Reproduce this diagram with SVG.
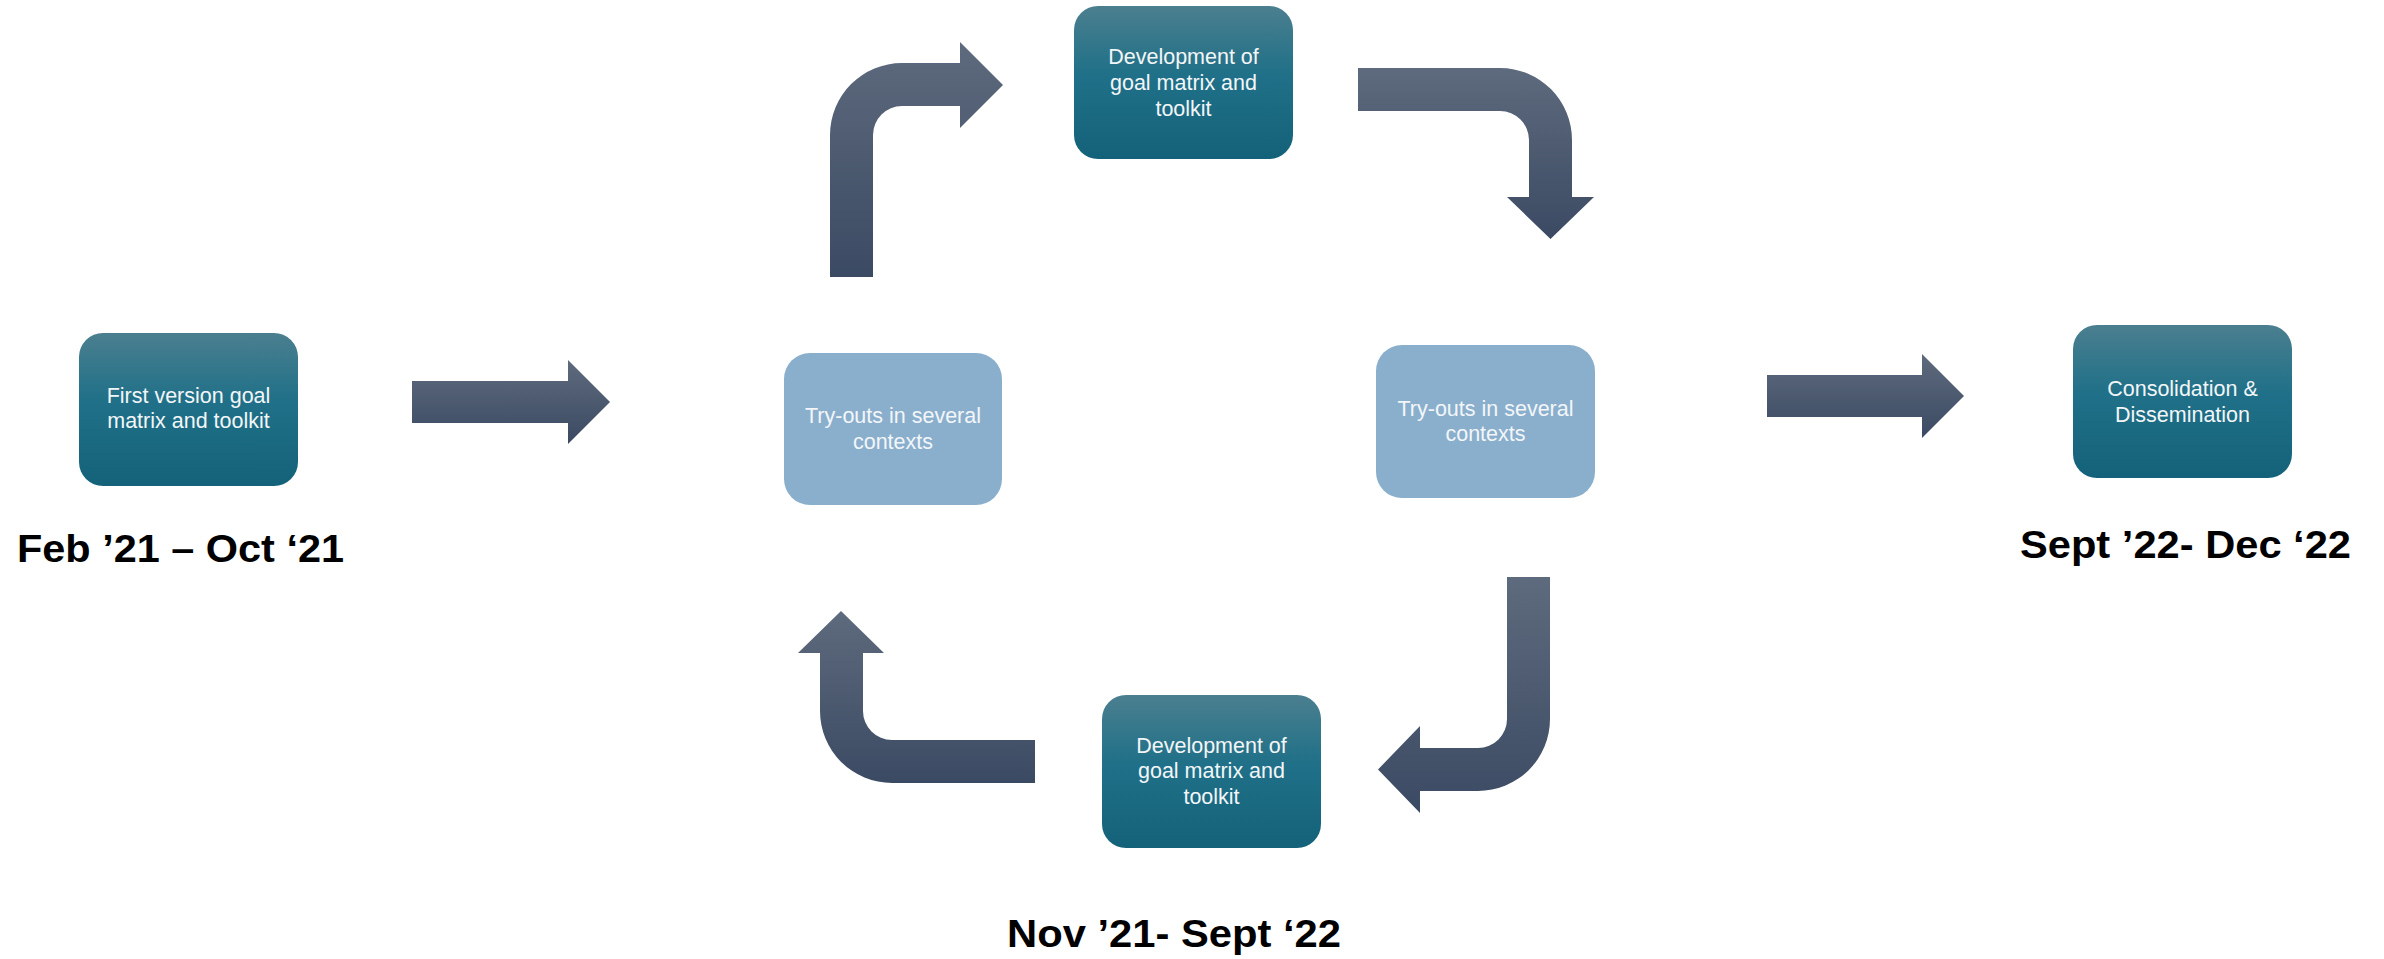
<svg xmlns="http://www.w3.org/2000/svg" width="2384" height="959" viewBox="0 0 2384 959">
<defs>
<linearGradient id="gDark" x1="0" y1="0" x2="0" y2="1">
<stop offset="0" stop-color="#4b7f8f"/>
<stop offset="0.45" stop-color="#1f7088"/>
<stop offset="1" stop-color="#14627a"/>
</linearGradient>
<linearGradient id="gArrow" x1="0" y1="0" x2="0" y2="1">
<stop offset="0" stop-color="#5e6a7d"/>
<stop offset="1" stop-color="#3b4a63"/>
</linearGradient>
<style>
.dark{fill:url(#gDark);}
.light{fill:#8aafcd;}
.arrow{fill:url(#gArrow);}
.bt{font-family:"Liberation Sans",Arial,sans-serif;font-size:21.5px;fill:#f3f6f8;text-anchor:middle;}
.date{font-family:"Liberation Sans",Arial,sans-serif;font-size:39px;font-weight:bold;fill:#000;}
</style>
</defs>
<rect width="2384" height="959" fill="#ffffff"/>
<g id="connectors">
<path class="arrow" d="M412,381 H568 V360 L610,402 L568,444 V423 H412 Z"/>
<path class="arrow" d="M830,277 V135 A72,72 0 0 1 902,63 H960 V42 L1003,85 L960,128 V106 H902 A29,29 0 0 0 873,135 V277 Z"/>
<path class="arrow" d="M1358,68 H1500 A72,72 0 0 1 1572,140 V197 H1594 L1550.5,239 L1507,197 H1529 V140 A29,29 0 0 0 1500,111 H1358 Z"/>
<path class="arrow" d="M1507,577 H1550 V719 A72,72 0 0 1 1478,791 H1420 V813 L1378,769.5 L1420,726 V748 H1478 A29,29 0 0 0 1507,719 Z"/>
<path class="arrow" d="M1035,740 H892 A29,29 0 0 1 863,711 V653 H884 L841,611 L798,653 H820 V711 A72,72 0 0 0 892,783 H1035 Z"/>
<path class="arrow" d="M1767,375 H1922 V354 L1964,396 L1922,438 V417 H1767 Z"/>
</g>
<g id="node-first">
<rect class="dark" x="79" y="333" width="219" height="153" rx="24"/>
<text class="bt" x="188.5" y="403">First version goal</text>
<text class="bt" x="188.5" y="428">matrix and toolkit</text>
</g>
<g id="node-dev-top">
<rect class="dark" x="1074" y="6" width="219" height="153" rx="24"/>
<text class="bt" x="1183.5" y="64">Development of</text>
<text class="bt" x="1183.5" y="90">goal matrix and</text>
<text class="bt" x="1183.5" y="116">toolkit</text>
</g>
<g id="node-tryout-left">
<rect class="light" x="784" y="353" width="218" height="152" rx="26"/>
<text class="bt" x="893" y="423">Try-outs in several</text>
<text class="bt" x="893" y="449">contexts</text>
</g>
<g id="node-tryout-right">
<rect class="light" x="1376" y="345" width="219" height="153" rx="26"/>
<text class="bt" x="1485.5" y="416">Try-outs in several</text>
<text class="bt" x="1485.5" y="441">contexts</text>
</g>
<g id="node-dev-bottom">
<rect class="dark" x="1102" y="695" width="219" height="153" rx="24"/>
<text class="bt" x="1211.5" y="753">Development of</text>
<text class="bt" x="1211.5" y="778">goal matrix and</text>
<text class="bt" x="1211.5" y="804">toolkit</text>
</g>
<g id="node-consolidation">
<rect class="dark" x="2073" y="325" width="219" height="153" rx="24"/>
<text class="bt" x="2182.5" y="396">Consolidation &amp;</text>
<text class="bt" x="2182.5" y="422">Dissemination</text>
</g>
<g id="labels">
<text class="date" x="17" y="562" textLength="327" lengthAdjust="spacingAndGlyphs">Feb ’21 – Oct ‘21</text>
<text class="date" x="2020" y="558" textLength="331" lengthAdjust="spacingAndGlyphs">Sept ’22- Dec ‘22</text>
<text class="date" x="1007" y="947" textLength="334" lengthAdjust="spacingAndGlyphs">Nov ’21- Sept ‘22</text>
</g>
</svg>
